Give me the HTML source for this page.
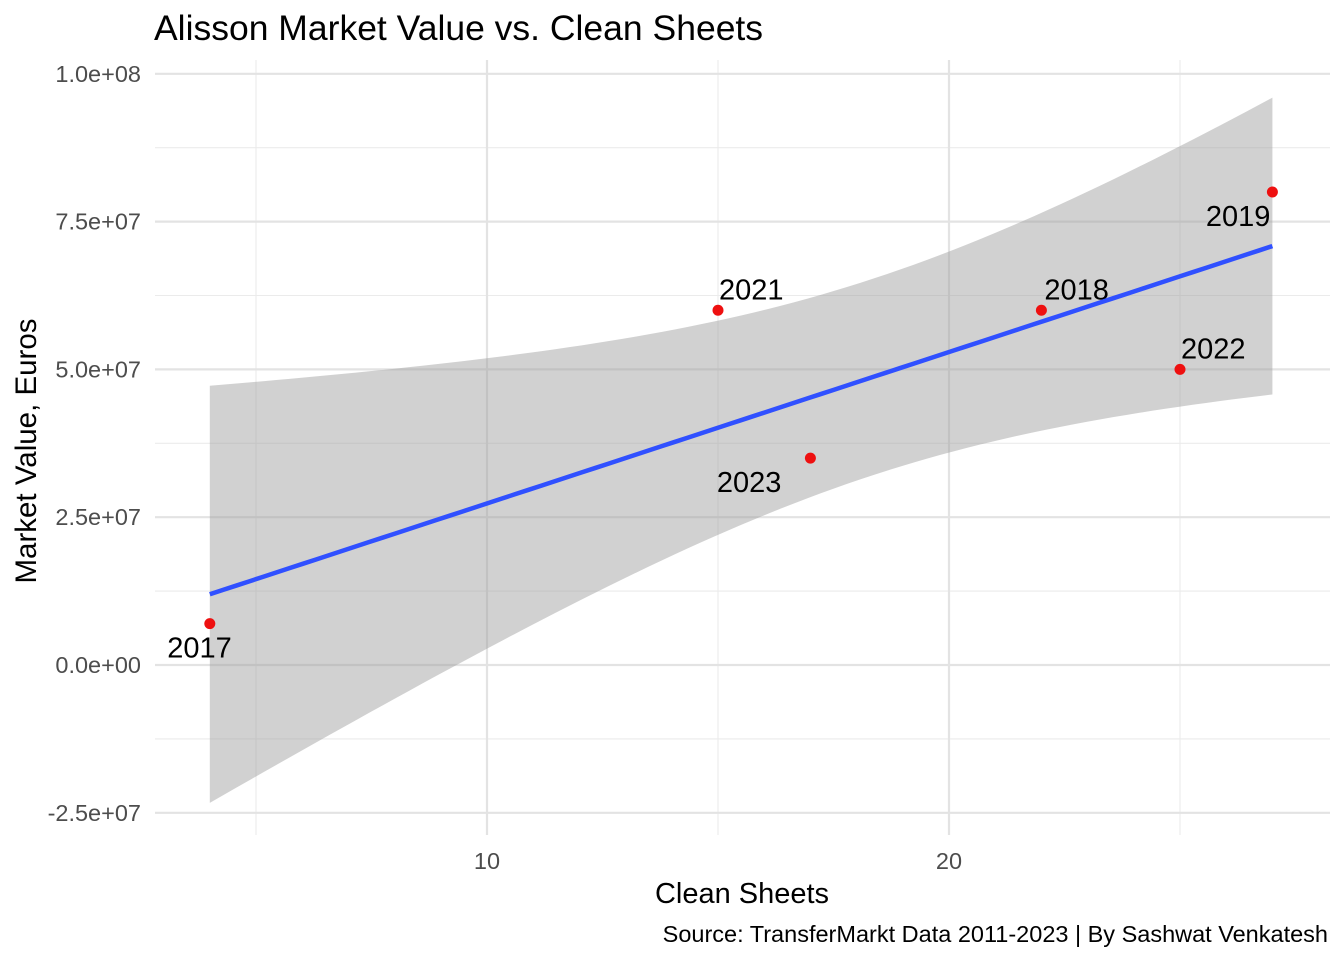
<!DOCTYPE html>
<html><head><meta charset="utf-8"><style>
body{margin:0;background:#fff;}
svg text{font-family:"Liberation Sans",Arial,sans-serif;}
</style></head><body>
<svg id="chart" width="1344" height="960" xmlns="http://www.w3.org/2000/svg">
<text x="154" y="40" font-size="35.5" fill="#000">Alisson Market Value vs. Clean Sheets</text>
<g id="grid"></g><g id="ribbon"></g><g id="marks"></g><g id="axes"></g>
<text x="742" y="903" font-size="29" text-anchor="middle" fill="#000">Clean Sheets</text>
<text transform="translate(36,451) rotate(-90)" font-size="29.5" text-anchor="middle" fill="#000">Market Value, Euros</text>
<text x="1328" y="942" font-size="23.5" text-anchor="end" fill="#000">Source: TransferMarkt Data 2011-2023 | By Sashwat Venkatesh</text>
</svg>
<script>
const years=["2017","2021","2023","2018","2022","2019"];
const cleanSheets=[4,15,17,22,25,27];
const marketValue=[7e6,60e6,35e6,60e6,50e6,80e6];
const labelAbove=[false,true,false,true,true,false];
const labelShift=[22,1,-29,3,1,-2];
const xTicks=[10,20];
const xMinor=[5,15,25];
const yTicks=[-2.5e7,0,2.5e7,5e7,7.5e7,1e8];
const yTickLabels=["-2.5e+07","0.0e+00","2.5e+07","5.0e+07","7.5e+07","1.0e+08"];

const NS="http://www.w3.org/2000/svg";
const X=v=>487+(v-10)*46.2;
const Y=v=>665-v/1e6*5.912;
const L=155,R=1330,T=60,B=835;
function mk(p,tag,a){const e=document.createElementNS(NS,tag);for(const k in a)e.setAttribute(k,a[k]);document.getElementById(p).appendChild(e);return e;}

xMinor.forEach(v=>{const e=mk('grid','line',{x1:X(v),x2:X(v),y1:T,y2:B,stroke:'#ebebeb','stroke-width':1.1});

});
for(let i=0;i<yTicks.length-1;i++){const m=(yTicks[i]+yTicks[i+1])/2;const e=mk('grid','line',{x1:L,x2:R,y1:Y(m),y2:Y(m),stroke:'#ebebeb','stroke-width':1.1});

}
xTicks.forEach(v=>{const e=mk('grid','line',{x1:X(v),x2:X(v),y1:T,y2:B,stroke:'#e3e3e3','stroke-width':2.2});


const t=mk('axes','text',{x:X(v),y:869,'font-size':23.5,fill:'#4d4d4d','text-anchor':'middle'});t.textContent=v;

});
yTicks.forEach((v,i)=>{const e=mk('grid','line',{x1:L,x2:R,y1:Y(v),y2:Y(v),stroke:'#e3e3e3','stroke-width':2.2});


const t=mk('axes','text',{x:141,y:Y(v)+8,'font-size':23.5,fill:'#4d4d4d','text-anchor':'end'});t.textContent=yTickLabels[i];

});

const n=cleanSheets.length;
const mx=cleanSheets.reduce((a,b)=>a+b)/n, my=marketValue.reduce((a,b)=>a+b)/n;
let sxx=0,sxy=0;cleanSheets.forEach((x,i)=>{sxx+=(x-mx)**2;sxy+=(x-mx)*(marketValue[i]-my);});
const b=sxy/sxx,a=my-b*mx;
let sse=0;cleanSheets.forEach((x,i)=>{sse+=(marketValue[i]-a-b*x)**2;});
const s=Math.sqrt(sse/(n-2)), tq=2.776;
const xmin=Math.min(...cleanSheets),xmax=Math.max(...cleanSheets);
const up=[],lo=[],ln=[];
for(let k=0;k<=80;k++){const x=xmin+(xmax-xmin)*k/80;const f=a+b*x;const se=s*Math.sqrt(1/n+(x-mx)**2/sxx);
up.push(X(x)+','+Y(f+tq*se));lo.push(X(x)+','+Y(f-tq*se));ln.push(X(x)+','+Y(f));}
const rib=mk('ribbon','polygon',{points:up.concat(lo.reverse()).join(' '),fill:'#999','fill-opacity':0.45});



cleanSheets.forEach((x,i)=>{const c=mk('marks','circle',{cx:X(x),cy:Y(marketValue[i]),r:5.5,fill:'#ee1010'});


const t=labelAbove[i]?mk('marks','text',{x:X(x)+labelShift[i],y:Y(marketValue[i])-11,'font-size':29,fill:'#000'}):mk('marks','text',{x:X(x)+labelShift[i],y:Y(marketValue[i])+34,'font-size':29,fill:'#000','text-anchor':'end'});
t.textContent=years[i];

});
const fit=mk('marks','polyline',{points:ln.join(' '),fill:'none',stroke:'#3050ff','stroke-width':4.5});


</script>
</body></html>
